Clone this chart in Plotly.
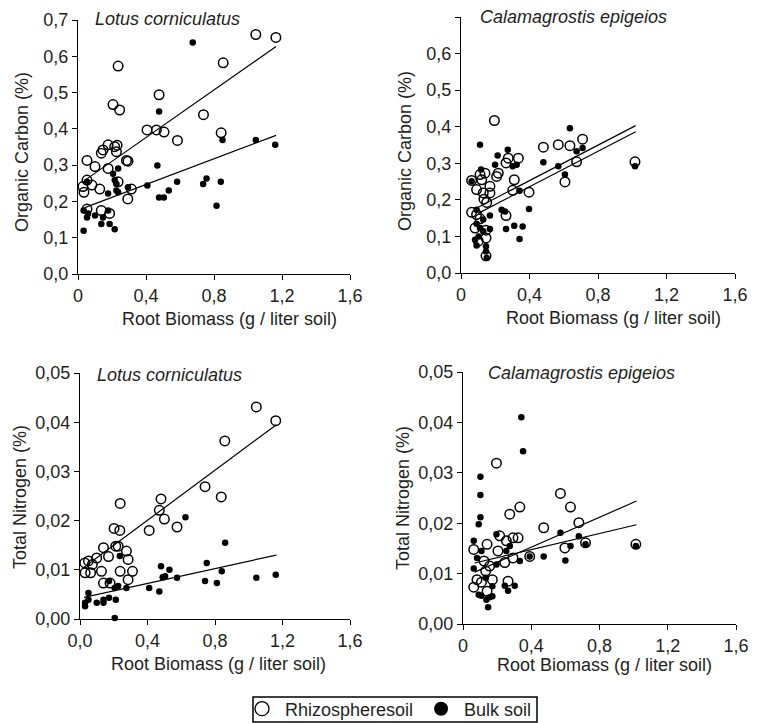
import plotly.graph_objects as go

# ---------------- data ----------------
# Panel A: Lotus corniculatus, Organic Carbon
lc_oc_rhizo_x = [1.046, 1.164, 0.854, 0.236, 0.477, 0.206, 0.245, 0.738, 0.406, 0.461, 0.506, 0.585,
                 0.842, 0.177, 0.147, 0.137, 0.216, 0.230, 0.226, 0.053, 0.100, 0.285, 0.294, 0.177,
                 0.053, 0.082, 0.029, 0.035, 0.128, 0.236, 0.314, 0.293, 0.053, 0.137, 0.186]
lc_oc_rhizo_y = [0.660, 0.652, 0.582, 0.573, 0.494, 0.467, 0.452, 0.439, 0.397, 0.397, 0.391, 0.368,
                 0.389, 0.356, 0.342, 0.333, 0.351, 0.355, 0.337, 0.313, 0.296, 0.313, 0.311, 0.291,
                 0.259, 0.245, 0.241, 0.225, 0.234, 0.254, 0.234, 0.207, 0.179, 0.175, 0.167]
lc_oc_bulk_x = [0.675, 0.477, 0.467, 1.046, 0.850, 1.160, 0.756, 0.736, 0.840, 0.583, 0.408, 0.534,
                0.477, 0.505, 0.815, 0.206, 0.236, 0.216, 0.226, 0.226, 0.236, 0.177, 0.294, 0.053,
                0.033, 0.059, 0.053, 0.100, 0.147, 0.177, 0.137, 0.186, 0.216, 0.033]
lc_oc_bulk_y = [0.638, 0.448, 0.299, 0.369, 0.369, 0.356, 0.263, 0.248, 0.254, 0.254, 0.244, 0.230,
                0.211, 0.211, 0.188, 0.276, 0.291, 0.259, 0.248, 0.230, 0.225, 0.222, 0.239, 0.254,
                0.175, 0.167, 0.156, 0.161, 0.156, 0.175, 0.138, 0.138, 0.123, 0.119]
lc_oc_fit_x = [0.04, 1.165]
lc_oc_rhizo_fit = [0.258, 0.627]
lc_oc_bulk_fit = [0.183, 0.382]

# Panel B: Calamagrostis epigeios, Organic Carbon
ce_oc_rhizo_x = [0.195, 0.481, 0.568, 0.636, 0.710, 0.675, 0.607, 1.016, 0.276, 0.335, 0.263, 0.218,
                 0.208, 0.140, 0.121, 0.111, 0.062, 0.169, 0.130, 0.169, 0.091, 0.150, 0.134, 0.311,
                 0.302, 0.397, 0.263, 0.062, 0.091, 0.111, 0.082, 0.146, 0.146, 0.101, 0.146]
ce_oc_rhizo_y = [0.417, 0.344, 0.351, 0.348, 0.366, 0.304, 0.249, 0.304, 0.314, 0.314, 0.301, 0.273,
                 0.264, 0.273, 0.255, 0.269, 0.253, 0.237, 0.219, 0.219, 0.228, 0.193, 0.202, 0.255,
                 0.226, 0.221, 0.157, 0.166, 0.160, 0.148, 0.123, 0.117, 0.096, 0.087, 0.047]
ce_oc_bulk_x = [0.111, 0.636, 0.214, 0.273, 0.481, 0.568, 0.607, 0.675, 0.710, 1.016, 0.199, 0.302,
                0.325, 0.117, 0.062, 0.342, 0.397, 0.237, 0.257, 0.091, 0.169, 0.130, 0.091, 0.111,
                0.169, 0.263, 0.311, 0.360, 0.342, 0.082, 0.091, 0.146, 0.146, 0.150, 0.130, 0.103]
ce_oc_bulk_y = [0.351, 0.396, 0.321, 0.337, 0.303, 0.292, 0.269, 0.333, 0.342, 0.292, 0.296, 0.292,
                0.296, 0.283, 0.251, 0.225, 0.175, 0.173, 0.168, 0.173, 0.157, 0.146, 0.135, 0.123,
                0.120, 0.120, 0.129, 0.127, 0.093, 0.091, 0.075, 0.073, 0.059, 0.041, 0.114, 0.100]
ce_oc_fit_x = [0.10, 1.02]
ce_oc_rhizo_fit = [0.180, 0.403]
ce_oc_bulk_fit = [0.163, 0.386]

# Panel C: Lotus corniculatus, Total Nitrogen
lc_tn_rhizo_x = [1.045, 1.160, 0.858, 0.741, 0.837, 0.238, 0.480, 0.470, 0.500, 0.575, 0.410, 0.202,
                 0.236, 0.139, 0.212, 0.226, 0.169, 0.099, 0.275, 0.285, 0.028, 0.050, 0.063, 0.030,
                 0.127, 0.238, 0.311, 0.285, 0.139, 0.178, 0.073]
lc_tn_rhizo_y = [0.0431, 0.0403, 0.0362, 0.0269, 0.0248, 0.0235, 0.0244, 0.0221, 0.0203, 0.0187,
                 0.0180, 0.0184, 0.0180, 0.0145, 0.0148, 0.0148, 0.0127, 0.0124, 0.0138, 0.0121,
                 0.0114, 0.0118, 0.0094, 0.0094, 0.0097, 0.0097, 0.0097, 0.0080, 0.0073, 0.0073, 0.0111]
lc_tn_bulk_x = [0.625, 0.860, 0.751, 0.480, 0.530, 0.490, 0.504, 0.575, 0.741, 0.811, 0.840, 1.045,
                1.160, 0.470, 0.410, 0.236, 0.275, 0.226, 0.206, 0.172, 0.172, 0.139, 0.139, 0.099,
                0.212, 0.050, 0.050, 0.030, 0.030, 0.206]
lc_tn_bulk_y = [0.0207, 0.0155, 0.0114, 0.0107, 0.0100, 0.0085, 0.0087, 0.0084, 0.0077, 0.0073,
                0.0097, 0.0084, 0.0090, 0.0056, 0.0063, 0.0128, 0.0063, 0.0067, 0.0063, 0.0077,
                0.0043, 0.0039, 0.0033, 0.0033, 0.0039, 0.0053, 0.0039, 0.0033, 0.0026, 0.0002]
lc_tn_fit_x = [0.024, 1.164]
lc_tn_rhizo_fit = [0.0105, 0.0395]
lc_tn_bulk_fit = [0.0044, 0.0130]

# Panel D: Calamagrostis epigeios, Total Nitrogen
ce_tn_rhizo_x = [0.196, 0.571, 0.630, 0.333, 0.274, 0.473, 0.679, 0.718, 1.013, 0.597, 0.215, 0.254,
                 0.293, 0.323, 0.141, 0.205, 0.063, 0.391, 0.293, 0.245, 0.123, 0.133, 0.156, 0.082,
                 0.172, 0.264, 0.063, 0.108, 0.141]
ce_tn_rhizo_y = [0.0319, 0.0259, 0.0232, 0.0232, 0.0218, 0.0191, 0.0201, 0.0161, 0.0158, 0.0151,
                 0.0175, 0.0165, 0.0171, 0.0171, 0.0158, 0.0145, 0.0148, 0.0134, 0.0131, 0.0122,
                 0.0125, 0.0105, 0.0115, 0.0088, 0.0088, 0.0085, 0.0073, 0.0083, 0.0065]
ce_tn_bulk_x = [0.342, 0.352, 0.102, 0.102, 0.102, 0.092, 0.063, 0.196, 0.571, 0.679, 0.630, 0.600,
                0.473, 1.013, 0.718, 0.391, 0.333, 0.274, 0.254, 0.196, 0.108, 0.082, 0.063, 0.133,
                0.172, 0.245, 0.303, 0.264, 0.092, 0.137, 0.156, 0.172, 0.147, 0.108]
ce_tn_bulk_y = [0.0410, 0.0343, 0.0292, 0.0256, 0.0212, 0.0198, 0.0165, 0.0178, 0.0181, 0.0174,
                0.0155, 0.0126, 0.0134, 0.0155, 0.0158, 0.0134, 0.0125, 0.0155, 0.0145, 0.0118,
                0.0145, 0.0131, 0.0110, 0.0092, 0.0075, 0.0076, 0.0076, 0.0066, 0.0058, 0.0048,
                0.0053, 0.0055, 0.0033, 0.0056]
ce_tn_fit_x = [0.068, 1.017]
ce_tn_rhizo_fit = [0.0103, 0.0244]
ce_tn_bulk_fit = [0.0121, 0.0197]

species = ["Lotus corniculatus", "Calamagrostis epigeios", "Lotus corniculatus", "Calamagrostis epigeios"]
y_titles = ["Organic Carbon (%)", "Organic Carbon (%)", "Total Nitrogen (%)", "Total Nitrogen (%)"]
x_title = "Root Biomass (g / liter soil)"
x_tickvals = [0, 0.4, 0.8, 1.2, 1.6]
x_ticktext_a = ["0", "0,4", "0,8", "1,2", "1,6"]
x_ticktext_c = ["0,0", "0,4", "0,8", "1,2", "1,6"]
oc_tickvals = [0, 0.1, 0.2, 0.3, 0.4, 0.5, 0.6, 0.7]
oc_ticktext = ["0,0", "0,1", "0,2", "0,3", "0,4", "0,5", "0,6", "0,7"]
tn_tickvals = [0, 0.01, 0.02, 0.03, 0.04, 0.05]
tn_ticktext = ["0,00", "0,01", "0,02", "0,03", "0,04", "0,05"]
legend_names = ["Rhizospheresoil", "Bulk soil"]

# ---------------- figure ----------------
FONT = "Liberation Sans, Arial, Helvetica, sans-serif"
TXT = "#231f20"
FS = 18
OFF = 8                # default page body margin
W, H = 759 - OFF, 723  # page pixels -> figure pixels


def px_x(v):
    return (v - OFF) / W


def px_y(v):
    return (H - (v - OFF)) / H


# layout positions in page pixels
panels = [
    dict(rx=lc_oc_rhizo_x, ry=lc_oc_rhizo_y, bx=lc_oc_bulk_x, by=lc_oc_bulk_y,
         fx=lc_oc_fit_x, fr=lc_oc_rhizo_fit, fb=lc_oc_bulk_fit,
         xd=(78, 350), yd=(20, 274), yr=(0, 0.7), yv=oc_tickvals, yt=oc_ticktext, xt=x_ticktext_a,
         xtit=(229, 319), ytit=(22, 152), sp=(93, 19)),
    dict(rx=ce_oc_rhizo_x, ry=ce_oc_rhizo_y, bx=ce_oc_bulk_x, by=ce_oc_bulk_y,
         fx=ce_oc_fit_x, fr=ce_oc_rhizo_fit, fb=ce_oc_bulk_fit,
         xd=(461, 735), yd=(17, 273), yr=(0, 0.7), yv=oc_tickvals, yt=oc_ticktext, xt=x_ticktext_a,
         xtit=(613, 318), ytit=(405, 151), sp=(478, 17)),
    dict(rx=lc_tn_rhizo_x, ry=lc_tn_rhizo_y, bx=lc_tn_bulk_x, by=lc_tn_bulk_y,
         fx=lc_tn_fit_x, fr=lc_tn_rhizo_fit, fb=lc_tn_bulk_fit,
         xd=(80, 350), yd=(373, 619), yr=(0, 0.05), yv=tn_tickvals, yt=tn_ticktext, xt=x_ticktext_c,
         xtit=(218, 664), ytit=(20, 497), sp=(95, 375)),
    dict(rx=ce_tn_rhizo_x, ry=ce_tn_rhizo_y, bx=ce_tn_bulk_x, by=ce_tn_bulk_y,
         fx=ce_tn_fit_x, fr=ce_tn_rhizo_fit, fb=ce_tn_bulk_fit,
         xd=(463, 736), yd=(372, 624), yr=(0, 0.05), yv=tn_tickvals, yt=tn_ticktext, xt=x_ticktext_a,
         xtit=(604, 665), ytit=(403, 498), sp=(486, 373)),
]

fig = go.Figure()
layout = {}
annotations = []
tfont = dict(family=FONT, size=FS, color=TXT)

for i, p in enumerate(panels):
    n = "" if i == 0 else str(i + 1)
    xa, ya = "x" + n, "y" + n
    fig.add_trace(go.Scatter(x=p["bx"], y=p["by"], mode="markers", xaxis=xa, yaxis=ya,
                             marker=dict(symbol="circle", size=6.5, color="black"),
                             showlegend=False, cliponaxis=False, hoverinfo="skip"))
    fig.add_trace(go.Scatter(x=p["rx"], y=p["ry"], mode="markers", xaxis=xa, yaxis=ya,
                             marker=dict(symbol="circle-open", size=9.5, color="black",
                                         line=dict(width=1.5, color="black")),
                             showlegend=False, cliponaxis=False, hoverinfo="skip"))
    fig.add_trace(go.Scatter(x=p["fx"], y=p["fr"], mode="lines", xaxis=xa, yaxis=ya,
                             line=dict(color="black", width=1.2), showlegend=False, hoverinfo="skip"))
    fig.add_trace(go.Scatter(x=p["fx"], y=p["fb"], mode="lines", xaxis=xa, yaxis=ya,
                             line=dict(color="black", width=1.2), showlegend=False, hoverinfo="skip"))

    x0, x1 = p["xd"]
    ytop, ybot = p["yd"]
    common = dict(showline=True, linecolor="black", linewidth=1.3, showgrid=False, zeroline=False,
                  ticks="outside", ticklen=5, tickwidth=1.3, tickcolor="black", automargin=False,
                  tickfont=tfont)
    layout["xaxis" + n] = dict(common, domain=[px_x(x0), px_x(x1)], anchor=ya, range=[0, 1.6],
                               tickmode="array", tickvals=x_tickvals, ticktext=p["xt"])
    layout["yaxis" + n] = dict(common, domain=[px_y(ybot), px_y(ytop)], anchor=xa,
                               range=list(p["yr"]), tickmode="array", tickvals=p["yv"], ticktext=p["yt"])
    annotations.append(dict(text="<i>" + species[i] + "</i>", xref="paper", yref="paper",
                            x=px_x(p["sp"][0]), y=px_y(p["sp"][1]), xanchor="left", yanchor="middle",
                            showarrow=False, font=tfont))
    annotations.append(dict(text=x_title, xref="paper", yref="paper",
                            x=px_x(p["xtit"][0]), y=px_y(p["xtit"][1]), xanchor="center",
                            yanchor="middle", showarrow=False, font=tfont))
    annotations.append(dict(text=y_titles[i], xref="paper", yref="paper", textangle=-90,
                            x=px_x(p["ytit"][0]), y=px_y(p["ytit"][1]), xanchor="center",
                            yanchor="middle", showarrow=False, font=tfont))

# legend-only entries
fig.add_trace(go.Scatter(x=[None], y=[None], mode="markers", name=legend_names[0],
                         marker=dict(symbol="circle-open", size=14, color="black", line=dict(width=1.3))))
fig.add_trace(go.Scatter(x=[None], y=[None], mode="markers", name=legend_names[1],
                         marker=dict(symbol="circle", size=14, color="black")))

fig.update_layout(
    width=W, height=H, margin=dict(l=0, r=0, t=0, b=0),
    paper_bgcolor="white", plot_bgcolor="white",
    font=tfont,
    annotations=annotations,
    shapes=[dict(type="rect", xref="paper", yref="paper", x0=px_x(253), x1=px_x(537),
                 y0=px_y(722), y1=px_y(697), line=dict(color="black", width=1.5))],
    legend=dict(orientation="h", x=px_x(388), xanchor="center", y=px_y(709), yanchor="middle",
                borderwidth=0, bgcolor="rgba(0,0,0,0)", font=tfont,
                itemwidth=36, tracegroupgap=0),
    **layout,
)

fig.write_html("out.html")
